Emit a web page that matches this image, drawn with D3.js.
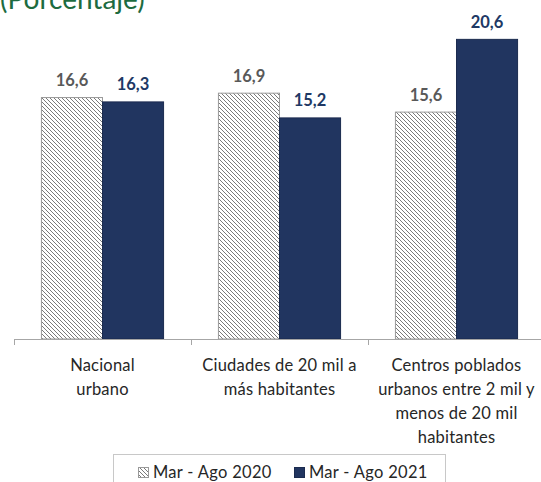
<!DOCTYPE html>
<html>
<head>
<meta charset="utf-8">
<script src="https://cdn.jsdelivr.net/npm/d3@7"></script>
<style>
    body { margin: 0; background: #fff; }
    svg { display: block; font-family: Lato, "Open Sans", sans-serif; }
</style>
</head>
<body>
<div id="chart"></div>
<script>
// data
const categories = [
    ["Nacional", "urbano"],
    ["Ciudades de 20 mil a", "más habitantes"],
    ["Centros poblados", "urbanos entre 2 mil y", "menos de 20 mil", "habitantes"]
];
const seriesNames = ["Mar - Ago 2020", "Mar - Ago 2021"];
const values2020 = [16.6, 16.9, 15.6];
const values2021 = [16.3, 15.2, 20.6];

document.addEventListener('DOMContentLoaded', function() {
    renderChart();
});

function renderChart() {
    const width = 541, height = 482;
    const axisY = 339;

    const svg = d3.select("#chart").append("svg")
        .attr("width", width)
        .attr("height", height);

    // hatch pattern for the 2020 bars
    const defs = svg.append("defs");
    const pat = defs.append("pattern")
        .attr("id", "hatch")
        .attr("patternUnits", "userSpaceOnUse")
        .attr("width", 4)
        .attr("height", 4);
    pat.append("rect").attr("width", 4).attr("height", 4).attr("fill", "#fff");
    pat.append("path")
        .attr("d", "M-1,-1 L5,5 M-1,3 L1,5 M3,-1 L5,1")
        .attr("stroke", "#7a7a7a")
        .attr("stroke-width", 1);

    // title (cut off at the top in the reference)
    svg.append("text")
        .attr("x", 0)
        .attr("y", 9)
        .attr("fill", "#1d6b40")
        .style("font-size", "28px")
        .text("(Porcentaje)");

    const idx = d3.range(categories.length);

    const x = d3.scaleBand()
        .domain(idx)
        .range([14, 14 + 177 * categories.length])
        .paddingInner(0.31)
        .paddingOuter(0.155);

    const xSub = d3.scaleBand()
        .domain([0, 1])
        .range([0, x.bandwidth()]);

    const y = d3.scaleLinear()
        .domain([0, 22])
        .range([axisY, 19]);

    const series = [
        { name: seriesNames[0], values: values2020, fill: "url(#hatch)", stroke: "#9a9a9a", label: "#595959" },
        { name: seriesNames[1], values: values2021, fill: "#213560", stroke: "#1b2b4f", label: "#203864" }
    ];

    series.forEach((s, si) => {
        const g = svg.append("g");
        g.selectAll("rect")
            .data(s.values)
            .enter().append("rect")
            .attr("x", (d, i) => x(i) + xSub(si))
            .attr("width", xSub.bandwidth())
            .attr("y", d => y(d))
            .attr("height", d => axisY - y(d))
            .attr("fill", s.fill)
            .attr("stroke", s.stroke)
            .attr("stroke-width", 1);

        g.selectAll("text")
            .data(s.values)
            .enter().append("text")
            .attr("x", (d, i) => x(i) + xSub(si) + xSub.bandwidth() / 2)
            .attr("y", d => y(d) - 11.5)
            .attr("text-anchor", "middle")
            .attr("fill", s.label)
            .style("font-size", "16.5px")
            .style("font-weight", "bold")
            .text(d => d.toFixed(1).replace(".", ","));
    });

    // category axis
    const axisG = svg.append("g").attr("stroke", "#a6a6a6").attr("stroke-width", 1);
    axisG.append("line")
        .attr("x1", 14).attr("x2", width)
        .attr("y1", axisY + 0.5).attr("y2", axisY + 0.5);
    axisG.selectAll(".tick")
        .data(idx)
        .enter().append("line")
        .attr("x1", i => Math.round(x(i) - x.step() * x.paddingInner() / 2) + 0.5)
        .attr("x2", i => Math.round(x(i) - x.step() * x.paddingInner() / 2) + 0.5)
        .attr("y1", axisY)
        .attr("y2", axisY + 6);

    const labels = svg.append("g")
        .attr("fill", "#262626")
        .style("font-size", "16.5px")
        .style("letter-spacing", "0.2px");
    categories.forEach((lines, i) => {
        const t = labels.append("text")
            .attr("text-anchor", "middle")
            .attr("x", x(i) + x.bandwidth() / 2)
            .attr("y", 371);
        lines.forEach((ln, k) => {
            t.append("tspan")
                .attr("x", x(i) + x.bandwidth() / 2)
                .attr("dy", k === 0 ? 0 : 24)
                .text(ln);
        });
    });

    // legend
    const legend = svg.append("g");
    legend.append("rect")
        .attr("x", 113.5).attr("y", 454.5)
        .attr("width", 332).attr("height", 40)
        .attr("fill", "#fff")
        .attr("stroke", "#c8c8c8");
    const legendX = [138, 294];
    series.forEach((s, si) => {
        legend.append("rect")
            .attr("x", legendX[si] + 0.5).attr("y", 467.5)
            .attr("width", 10).attr("height", 10)
            .attr("fill", s.fill)
            .attr("stroke", s.stroke);
        legend.append("text")
            .attr("x", legendX[si] + 15)
            .attr("y", 478)
            .attr("fill", "#262626")
            .style("font-size", "16.5px")
            .style("letter-spacing", "0.3px")
            .text(s.name);
    });
}
</script>
</body>
</html>
